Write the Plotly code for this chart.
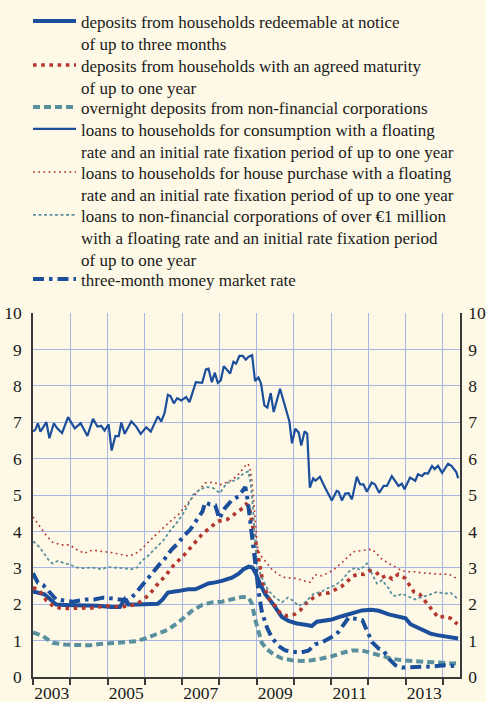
import plotly.graph_objects as go

# ---------------- data (decimal years, percentages per annum) ----------------
t_notice = [2003.00, 2003.04, 2003.31, 2003.45, 2003.62, 2003.85, 2004.30, 2004.74, 2005.10, 2005.33,
            2005.46, 2005.55, 2005.82, 2006.00, 2006.35, 2006.48, 2006.62, 2006.89, 2007.16, 2007.36,
            2007.54, 2007.71, 2007.89, 2008.07, 2008.34, 2008.52, 2008.65, 2008.79, 2008.89, 2008.98,
            2009.10, 2009.23, 2009.41, 2009.54, 2009.68, 2009.86, 2010.08, 2010.35, 2010.48, 2010.62,
            2010.75, 2010.93, 2011.02, 2011.29, 2011.56, 2011.83, 2012.08, 2012.28, 2012.55, 2012.81,
            2013.00, 2013.13, 2013.31, 2013.53, 2013.67, 2013.85, 2014.07, 2014.30, 2014.41]
v_notice = [2.33, 2.34, 2.27, 2.13, 1.99, 1.98, 1.98, 1.96, 1.92, 1.92,
            2.13, 1.99, 1.99, 1.99, 2.01, 2.13, 2.32, 2.36, 2.41, 2.41,
            2.48, 2.57, 2.60, 2.64, 2.73, 2.84, 2.96, 3.03, 3.01, 2.84,
            2.55, 2.28, 2.05, 1.86, 1.65, 1.54, 1.47, 1.43, 1.40, 1.52,
            1.54, 1.56, 1.58, 1.67, 1.76, 1.83, 1.85, 1.82, 1.72, 1.65,
            1.61, 1.45, 1.36, 1.28, 1.19, 1.15, 1.12, 1.08, 1.06]

t_agreed = [2003.00, 2003.15, 2003.36, 2003.58, 2003.80, 2004.03, 2004.25, 2004.46, 2004.67, 2004.88,
            2005.10, 2005.33, 2005.55, 2005.77, 2005.92, 2006.10, 2006.32, 2006.57, 2006.79, 2007.02,
            2007.26, 2007.53, 2007.77, 2007.97, 2008.20, 2008.42, 2008.63, 2008.72, 2008.80, 2008.86,
            2008.92, 2008.98, 2009.04, 2009.10, 2009.17, 2009.25, 2009.34, 2009.50, 2009.66, 2009.81,
            2010.02, 2010.17, 2010.32, 2010.53, 2010.73, 2010.93, 2011.11, 2011.27, 2011.42, 2011.58,
            2011.74, 2011.87, 2012.02, 2012.20, 2012.35, 2012.50, 2012.64, 2012.80, 2012.98, 2013.10,
            2013.22, 2013.37, 2013.55, 2013.71, 2013.88, 2014.05, 2014.21, 2014.39]
v_agreed = [2.45, 2.41, 2.10, 1.92, 1.88, 1.88, 1.90, 1.88, 1.90, 1.95,
            1.95, 1.92, 1.95, 1.99, 2.10, 2.24, 2.52, 2.80, 3.09, 3.31,
            3.59, 3.91, 4.12, 4.28, 4.32, 4.49, 4.64, 4.75, 4.70, 4.34,
            4.02, 3.70, 3.38, 2.96, 2.60, 2.37, 2.14, 1.95, 1.72, 1.68,
            1.72, 1.83, 2.02, 2.18, 2.29, 2.31, 2.40, 2.48, 2.61, 2.77,
            2.83, 2.82, 2.92, 2.89, 2.73, 2.79, 2.69, 2.82, 2.72, 2.55,
            2.34, 2.28, 2.04, 1.83, 1.63, 1.67, 1.61, 1.45]

t_overnight = [2003.00, 2003.04, 2003.27, 2003.53, 2003.85, 2004.21, 2004.52, 2004.83, 2005.19, 2005.55,
               2005.77, 2006.04, 2006.35, 2006.62, 2006.89, 2007.05, 2007.27, 2007.54, 2007.80, 2008.07,
               2008.34, 2008.61, 2008.79, 2008.88, 2008.96, 2009.05, 2009.14, 2009.28, 2009.46, 2009.68,
               2009.95, 2010.21, 2010.48, 2010.75, 2011.02, 2011.29, 2011.56, 2011.83, 2012.10, 2012.37,
               2012.64, 2012.91, 2013.17, 2013.44, 2013.71, 2013.98, 2014.25, 2014.41]
v_overnight = [1.22, 1.21, 1.12, 0.94, 0.89, 0.87, 0.87, 0.91, 0.94, 0.96,
               0.98, 1.07, 1.18, 1.30, 1.49, 1.62, 1.82, 1.98, 2.05, 2.07,
               2.14, 2.20, 2.18, 2.00, 1.59, 1.22, 0.94, 0.76, 0.62, 0.51,
               0.46, 0.44, 0.46, 0.51, 0.57, 0.66, 0.73, 0.73, 0.66, 0.57,
               0.50, 0.46, 0.44, 0.41, 0.39, 0.37, 0.37, 0.38]

t_consumer = [2003.00, 2003.06, 2003.13, 2003.20, 2003.36, 2003.44, 2003.56, 2003.65, 2003.78, 2003.94,
              2004.12, 2004.28, 2004.46, 2004.61, 2004.73, 2004.83, 2004.92, 2005.03, 2005.11, 2005.21,
              2005.30, 2005.37, 2005.46, 2005.64, 2005.77, 2005.89, 2006.04, 2006.16, 2006.35, 2006.44,
              2006.53, 2006.62, 2006.69, 2006.78, 2006.87, 2006.98, 2007.11, 2007.20, 2007.37, 2007.54,
              2007.64, 2007.71, 2007.80, 2007.88, 2007.96, 2008.04, 2008.12, 2008.20, 2008.29, 2008.38,
              2008.45, 2008.54, 2008.63, 2008.71, 2008.79, 2008.88, 2008.96, 2009.05, 2009.12, 2009.21,
              2009.29, 2009.38, 2009.46, 2009.63, 2009.75, 2009.88, 2009.95, 2010.04, 2010.13, 2010.20,
              2010.29, 2010.36, 2010.43, 2010.52, 2010.58, 2010.70, 2010.84, 2011.02, 2011.15, 2011.20,
              2011.29, 2011.38, 2011.47, 2011.56, 2011.69, 2011.78, 2011.87, 2011.96, 2012.09, 2012.18,
              2012.29, 2012.41, 2012.50, 2012.63, 2012.81, 2012.90, 2012.97, 2013.12, 2013.26, 2013.33,
              2013.44, 2013.51, 2013.60, 2013.71, 2013.78, 2013.87, 2013.98, 2014.14, 2014.23, 2014.32,
              2014.36, 2014.41]
v_consumer = [6.75, 6.79, 6.97, 6.74, 7.00, 6.56, 6.97, 6.83, 6.70, 7.14,
              6.83, 6.97, 6.62, 7.09, 6.88, 6.90, 6.77, 6.94, 6.22, 6.62,
              6.62, 6.99, 6.68, 7.02, 6.88, 6.68, 6.86, 6.74, 7.16, 7.02,
              7.25, 7.75, 7.72, 7.52, 7.66, 7.60, 7.69, 7.55, 8.10, 8.08,
              8.45, 8.47, 8.10, 8.36, 8.08, 8.15, 8.54, 8.45, 8.34, 8.66,
              8.61, 8.82, 8.82, 8.72, 8.80, 8.84, 8.13, 8.23, 8.06, 7.46,
              7.40, 7.80, 7.28, 7.92, 7.46, 7.03, 6.42, 6.82, 6.72, 6.36,
              6.75, 6.68, 5.20, 5.46, 5.39, 5.50, 5.20, 4.85, 5.11, 5.09,
              4.85, 5.04, 5.05, 4.88, 5.50, 5.29, 5.29, 5.09, 5.34, 5.29,
              5.06, 5.25, 5.25, 5.52, 5.25, 5.31, 5.16, 5.48, 5.39, 5.57,
              5.52, 5.60, 5.59, 5.80, 5.71, 5.80, 5.61, 5.86, 5.80, 5.66,
              5.63, 5.46]

t_house = [2003.00, 2003.04, 2003.18, 2003.36, 2003.53, 2003.76, 2003.98, 2004.16, 2004.38, 2004.61,
           2004.83, 2005.10, 2005.33, 2005.55, 2005.73, 2005.91, 2006.04, 2006.22, 2006.40, 2006.58,
           2006.76, 2006.94, 2007.13, 2007.39, 2007.62, 2007.84, 2008.02, 2008.24, 2008.47, 2008.65,
           2008.74, 2008.81, 2008.87, 2008.92, 2008.96, 2009.02, 2009.10, 2009.23, 2009.41, 2009.59,
           2009.77, 2010.04, 2010.26, 2010.44, 2010.57, 2010.75, 2010.93, 2011.11, 2011.29, 2011.47,
           2011.60, 2011.78, 2011.96, 2012.10, 2012.23, 2012.37, 2012.55, 2012.73, 2012.90, 2013.08,
           2013.26, 2013.44, 2013.62, 2013.80, 2013.98, 2014.16, 2014.30, 2014.41]
v_house = [4.40, 4.34, 4.13, 3.88, 3.70, 3.63, 3.63, 3.51, 3.40, 3.49,
           3.45, 3.42, 3.37, 3.33, 3.37, 3.51, 3.65, 3.83, 4.02, 4.18,
           4.34, 4.50, 4.75, 5.06, 5.33, 5.35, 5.28, 5.36, 5.51, 5.74,
           5.86, 5.80, 5.42, 4.87, 4.23, 3.59, 3.35, 3.19, 2.96, 2.81,
           2.73, 2.71, 2.64, 2.60, 2.81, 2.78, 2.86, 2.98, 3.14, 3.30,
           3.44, 3.47, 3.49, 3.51, 3.38, 3.23, 3.12, 3.01, 2.92, 2.89,
           2.89, 2.86, 2.84, 2.84, 2.82, 2.83, 2.75, 2.68]

t_nfc = [2003.00, 2003.04, 2003.18, 2003.31, 2003.45, 2003.53, 2003.67, 2003.85, 2003.98, 2004.16,
         2004.34, 2004.56, 2004.83, 2005.00, 2005.19, 2005.41, 2005.64, 2005.80, 2005.91, 2006.09,
         2006.26, 2006.49, 2006.67, 2006.89, 2007.07, 2007.30, 2007.48, 2007.66, 2007.84, 2008.02,
         2008.20, 2008.47, 2008.66, 2008.78, 2008.84, 2008.90, 2008.96, 2009.02, 2009.14, 2009.32,
         2009.50, 2009.68, 2009.84, 2009.99, 2010.13, 2010.30, 2010.53, 2010.75, 2010.93, 2011.11,
         2011.29, 2011.47, 2011.65, 2011.78, 2011.96, 2012.10, 2012.23, 2012.37, 2012.55, 2012.64,
         2012.77, 2012.90, 2013.08, 2013.26, 2013.44, 2013.62, 2013.85, 2014.03, 2014.21, 2014.41]
v_nfc = [3.72, 3.70, 3.56, 3.37, 3.17, 3.12, 3.19, 3.12, 3.10, 3.01,
         2.99, 3.01, 2.96, 3.02, 3.01, 2.99, 2.96, 3.01, 3.19, 3.33,
         3.51, 3.74, 4.00, 4.28, 4.55, 5.01, 5.15, 5.22, 5.19, 5.05,
         5.33, 5.42, 5.60, 5.65, 5.33, 4.69, 3.77, 3.04, 2.73, 2.37,
         2.18, 2.05, 2.18, 2.09, 1.95, 2.05, 2.28, 2.35, 2.45, 2.52,
         2.66, 2.89, 3.01, 2.94, 3.12, 2.84, 2.57, 2.66, 2.43, 2.25,
         2.22, 2.29, 2.22, 2.13, 2.20, 2.25, 2.34, 2.29, 2.31, 2.14]

t_mm = [2003.00, 2003.04, 2003.13, 2003.27, 2003.45, 2003.62, 2003.85, 2004.07, 2004.25, 2004.43,
        2004.65, 2004.88, 2005.10, 2005.33, 2005.55, 2005.73, 2005.91, 2006.09, 2006.26, 2006.40,
        2006.53, 2006.72, 2006.89, 2007.03, 2007.22, 2007.40, 2007.55, 2007.62, 2007.75, 2007.89,
        2008.00, 2008.15, 2008.33, 2008.51, 2008.63, 2008.70, 2008.76, 2008.82, 2008.88, 2008.92,
        2008.98, 2009.05, 2009.14, 2009.28, 2009.41, 2009.59, 2009.77, 2009.95, 2010.17, 2010.39,
        2010.57, 2010.75, 2010.93, 2011.06, 2011.20, 2011.33, 2011.47, 2011.60, 2011.72, 2011.84,
        2011.96, 2012.10, 2012.28, 2012.41, 2012.55, 2012.73, 2012.90, 2013.08, 2013.26, 2013.44,
        2013.71, 2013.89, 2014.03, 2014.20, 2014.38]
v_mm = [2.85, 2.78, 2.59, 2.53, 2.34, 2.13, 2.10, 2.07, 2.10, 2.13,
        2.13, 2.18, 2.16, 2.13, 2.10, 2.27, 2.50, 2.73, 2.91, 3.10,
        3.24, 3.50, 3.67, 3.86, 4.05, 4.30, 4.55, 4.80, 4.74, 4.72,
        4.35, 4.64, 4.85, 4.96, 5.15, 5.22, 4.87, 4.30, 3.83, 3.40,
        3.01, 2.37, 1.80, 1.36, 1.08, 0.85, 0.73, 0.70, 0.67, 0.72,
        0.90, 0.95, 1.06, 1.12, 1.24, 1.42, 1.63, 1.61, 1.58, 1.56,
        1.28, 0.96, 0.78, 0.72, 0.50, 0.32, 0.26, 0.26, 0.26, 0.28,
        0.29, 0.32, 0.32, 0.30, 0.32]

series_names = [
    "deposits from households redeemable at notice<br>of up to three months",
    "deposits from households with an agreed maturity<br>of up to one year",
    "overnight deposits from non-financial corporations",
    "loans to households for consumption with a floating<br>rate and an initial rate fixation period of up to one year",
    "loans to households for house purchase with a floating<br>rate and an initial rate fixation period of up to one year",
    "loans to non-financial corporations of over €1 million<br>with a floating rate and an initial rate fixation period<br>of up to one year",
    "three-month money market rate",
]

year_ticks = list(range(2003, 2015))
label_years = [2003, 2005, 2007, 2009, 2011, 2013]
y_ticks = list(range(0, 11))

# ---------------- styling ----------------
W, H = 486, 702
M_L, M_R, M_T, M_B = 33, 26, 313, 25
PLOT_W, PLOT_H = W - M_L - M_R, H - M_T - M_B
BLUE = "#1B4E9B"
RED = "#B3372D"
TEAL = "#5A909E"
BG = "#FEF9E6"
GRID = "#AAB5E3"
AXIS = "#3A3A3A"
FONT = "Liberation Serif, Times New Roman, serif"
TXT = "#1a1a1a"

styles = [
    dict(color=BLUE, width=4, dash="solid"),
    dict(color=RED, width=3.6, dash="3.6px,4.6px"),
    dict(color=TEAL, width=4, dash="7px,4px"),
    dict(color=BLUE, width=2.2, dash="solid"),
    dict(color=RED, width=1.6, dash="1.8px,3.4px"),
    dict(color=TEAL, width=1.8, dash="3px,2.5px"),
    dict(color=BLUE, width=4, dash="11px,5px,3.5px,5px"),
]
data = [(t_notice, v_notice), (t_agreed, v_agreed), (t_overnight, v_overnight),
        (t_consumer, v_consumer), (t_house, v_house), (t_nfc, v_nfc), (t_mm, v_mm)]

# each legend entry gets its own legend box, placed at the reference's row (px from top)
legend_top_px = [3.4, 47.4, 89.4, 111.4, 154.4, 197.4, 261.4]
legend_left_px = 28
legend_ids = ["legend"] + ["legend%d" % i for i in range(2, 8)]

fig = go.Figure()
for i, (name, (t, v), st) in enumerate(zip(series_names, data, styles)):
    kw = {}
    if i == len(series_names) - 1:
        kw = dict(xaxis="x2", yaxis="y2")  # carries the label axes (same ranges)
    fig.add_trace(go.Scatter(x=t, y=v, name=name, mode="lines", line=st,
                             hoverinfo="skip", legend=legend_ids[i], **kw))

x_range = [2003, 2014.46]

legend_layout = {}
for lid, top in zip(legend_ids, legend_top_px):
    legend_layout[lid] = dict(
        xref="paper", yref="paper",
        x=(legend_left_px - M_L) / PLOT_W, y=1 + (M_T - top) / PLOT_H,
        xanchor="left", yanchor="top", valign="top",
        bgcolor="rgba(0,0,0,0)", borderwidth=0, itemwidth=43,
        font=dict(family=FONT, size=17, color=TXT),
        itemclick=False, itemdoubleclick=False,
    )

fig.update_layout(
    width=W, height=H,
    paper_bgcolor=BG, plot_bgcolor=BG,
    margin=dict(l=M_L, r=M_R, t=M_T, b=M_B, pad=0, autoexpand=False),
    font=dict(family=FONT, size=17.5, color=TXT),
    showlegend=True,
    xaxis=dict(
        range=x_range, tickmode="array", tickvals=year_ticks, showticklabels=False,
        ticks="outside", ticklen=6, tickwidth=1.5, tickcolor=AXIS,
        showline=True, linecolor=AXIS, linewidth=1.5,
        showgrid=True, gridcolor=GRID, gridwidth=1.2, zeroline=False,
    ),
    xaxis2=dict(
        range=x_range, overlaying="x", anchor="y2", side="bottom",
        tickmode="array", tickvals=[y + 0.5 for y in label_years], ticktext=[str(y) for y in label_years],
        ticks="", ticklabelstandoff=3, ticklabeloverflow="allow",
        showline=False, showgrid=False, zeroline=False,
        tickfont=dict(family=FONT, size=17.5, color=TXT),
    ),
    yaxis=dict(
        range=[0, 10], tickmode="array", tickvals=y_ticks,
        ticks="", ticklabelstandoff=6, ticklabeloverflow="allow",
        showline=True, linecolor=AXIS, linewidth=1.5,
        showgrid=True, gridcolor=GRID, gridwidth=1.2, zeroline=False,
        tickfont=dict(family=FONT, size=17.5, color=TXT),
    ),
    yaxis2=dict(
        range=[0, 10], overlaying="y", side="right", anchor="x2", tickmode="array", tickvals=y_ticks,
        ticks="", ticklabelstandoff=3, ticklabeloverflow="allow",
        showline=True, linecolor=AXIS, linewidth=1.5,
        showgrid=False, zeroline=False, showticklabels=True,
        tickfont=dict(family=FONT, size=17.5, color=TXT),
    ),
    **legend_layout,
)

# remove the browser's default 8px page margin so the figure fills the window exactly
fig.write_html(
    "out.html",
    config={"displayModeBar": False},
    post_script="document.body.style.margin='0';document.body.style.background='%s';" % BG,
)
